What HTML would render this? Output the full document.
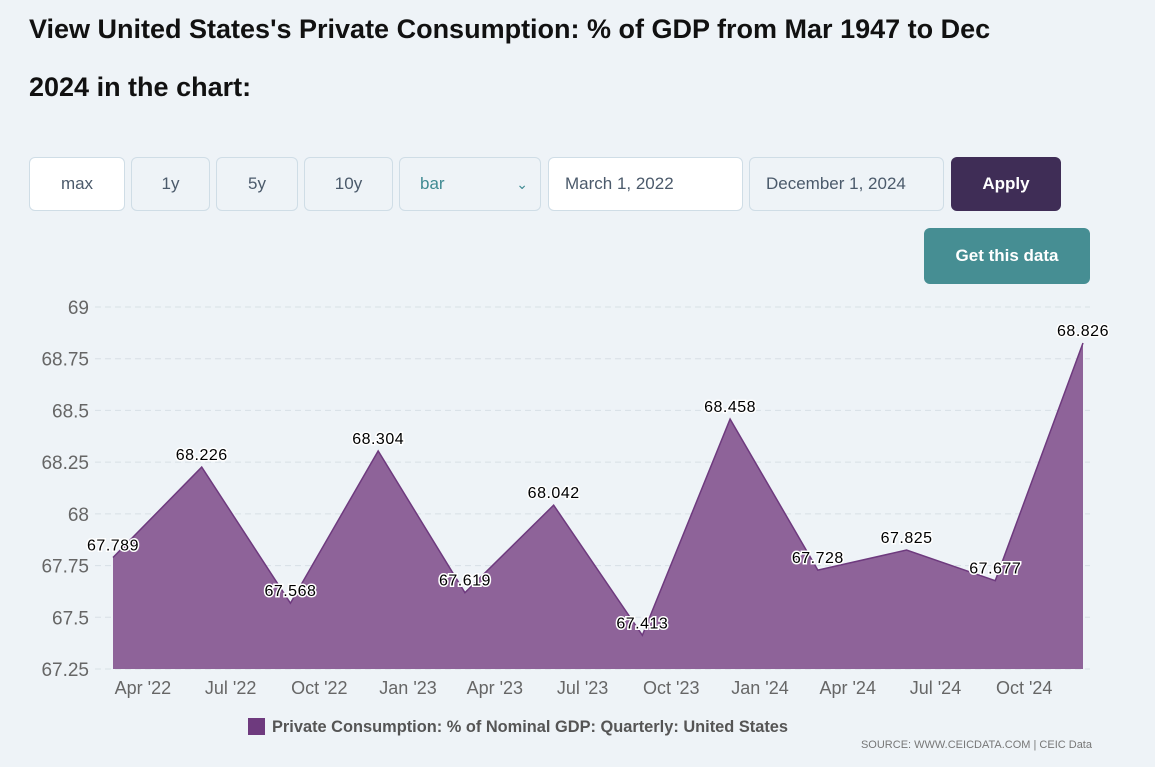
<!DOCTYPE html>
<html><head><meta charset="utf-8"><style>
body{margin:0;background:#eef3f7;font-family:"Liberation Sans",sans-serif;width:1155px;height:767px;overflow:hidden;position:relative}
h1{position:absolute;left:29px;top:0;margin:0;font-size:27px;line-height:58px;font-weight:bold;color:#111;width:1000px}
.b{position:absolute;top:157px;height:54px;box-sizing:border-box;border:1px solid #cfdde6;border-radius:6px;background:#eef3f7;color:#4b5a6b;font-size:17px;display:flex;align-items:center;justify-content:center}
</style></head><body>
<h1>View United States's Private Consumption: % of GDP from Mar 1947 to Dec 2024 in the chart:</h1>
<div class="b" style="left:29px;width:96px;background:#fff">max</div>
<div class="b" style="left:131px;width:79px">1y</div>
<div class="b" style="left:216px;width:82px">5y</div>
<div class="b" style="left:304px;width:89px">10y</div>
<div class="b" style="left:399px;width:142px;justify-content:space-between;padding:0 12px 0 20px;color:#3f8a92">bar<span style="font-size:14px">&#8964;</span></div>
<div class="b" style="left:548px;width:195px;background:#fff;justify-content:flex-start;padding-left:16px">March 1, 2022</div>
<div class="b" style="left:749px;width:195px;justify-content:flex-start;padding-left:16px">December 1, 2024</div>
<div class="b" style="left:951px;width:110px;background:#3f2d56;color:#fff;border:none;font-weight:bold">Apply</div>
<div class="b" style="left:924px;top:228px;width:166px;height:56px;background:#468e93;color:#fff;border:none;font-weight:bold">Get this data</div>
<svg id="c" width="1155" height="767" style="position:absolute;left:0;top:0"></svg>
<script>
const dates=["2022-03-01","2022-06-01","2022-09-01","2022-12-01","2023-03-01","2023-06-01","2023-09-01","2023-12-01","2024-03-01","2024-06-01","2024-09-01","2024-12-01"];
const values=[67.789,68.226,67.568,68.304,67.619,68.042,67.413,68.458,67.728,67.825,67.677,68.826];
const yTicks=[67.25,67.5,67.75,68,68.25,68.5,68.75,69];
const xTickDates=["2022-04-01","2022-07-01","2022-10-01","2023-01-01","2023-04-01","2023-07-01","2023-10-01","2024-01-01","2024-04-01","2024-07-01","2024-10-01"];
const xTickLabels=["Apr '22","Jul '22","Oct '22","Jan '23","Apr '23","Jul '23","Oct '23","Jan '24","Apr '24","Jul '24","Oct '24"];
const svg=document.getElementById('c'),NS="http://www.w3.org/2000/svg";
const t0=Date.parse(dates[0]),t1=Date.parse(dates[dates.length-1]);
const x=d=>113+(Date.parse(d)-t0)/(t1-t0)*970;
const y=v=>307+(69-v)/1.75*362;
function mk(tag,a,txt){const e=document.createElementNS(NS,tag);for(const k in a)e.setAttribute(k,a[k]);if(txt!=null)e.textContent=txt;svg.appendChild(e);return e;}
yTicks.forEach(v=>{
 const l=mk('line',{x1:95,x2:1090,y1:y(v),y2:y(v),stroke:'#d8e0e6','stroke-dasharray':'6,4'});
 
 const t=mk('text',{x:89,y:y(v)+7,'text-anchor':'end','font-size':19,fill:'#666'},v);
 
});
const pts=dates.map((d,i)=>x(d)+','+y(values[i])).join(' ');
const area=mk('polygon',{points:x(dates[0])+','+y(67.25)+' '+pts+' '+x(dates[11])+','+y(67.25),fill:'#8e6399'});

const ln=mk('polyline',{points:pts,fill:'none',stroke:'#6e3a7e','stroke-width':1.5});

xTickDates.forEach((d,i)=>{
 const t=mk('text',{x:x(d),y:694,'text-anchor':'middle','font-size':18,fill:'#666'},xTickLabels[i]);
 
});
dates.forEach((d,i)=>{
 const t=mk('text',{x:x(d),y:y(values[i])-7,'text-anchor':'middle','font-size':16,fill:'#000',stroke:'#fff','stroke-width':3,'paint-order':'stroke','letter-spacing':'0.5'},values[i].toFixed(3));
 
});
const sw=mk('rect',{x:248,y:718,width:17,height:17,fill:'#6e3a7e'});

const lg=mk('text',{x:272,y:732,'font-size':17,fill:'#555','font-weight':'bold',textLength:516,lengthAdjust:'spacingAndGlyphs'},'Private Consumption: % of Nominal GDP: Quarterly: United States');

const src=mk('text',{x:1092,y:748,'text-anchor':'end','font-size':11,fill:'#777'},'SOURCE: WWW.CEICDATA.COM | CEIC Data');

</script>
</body></html>
